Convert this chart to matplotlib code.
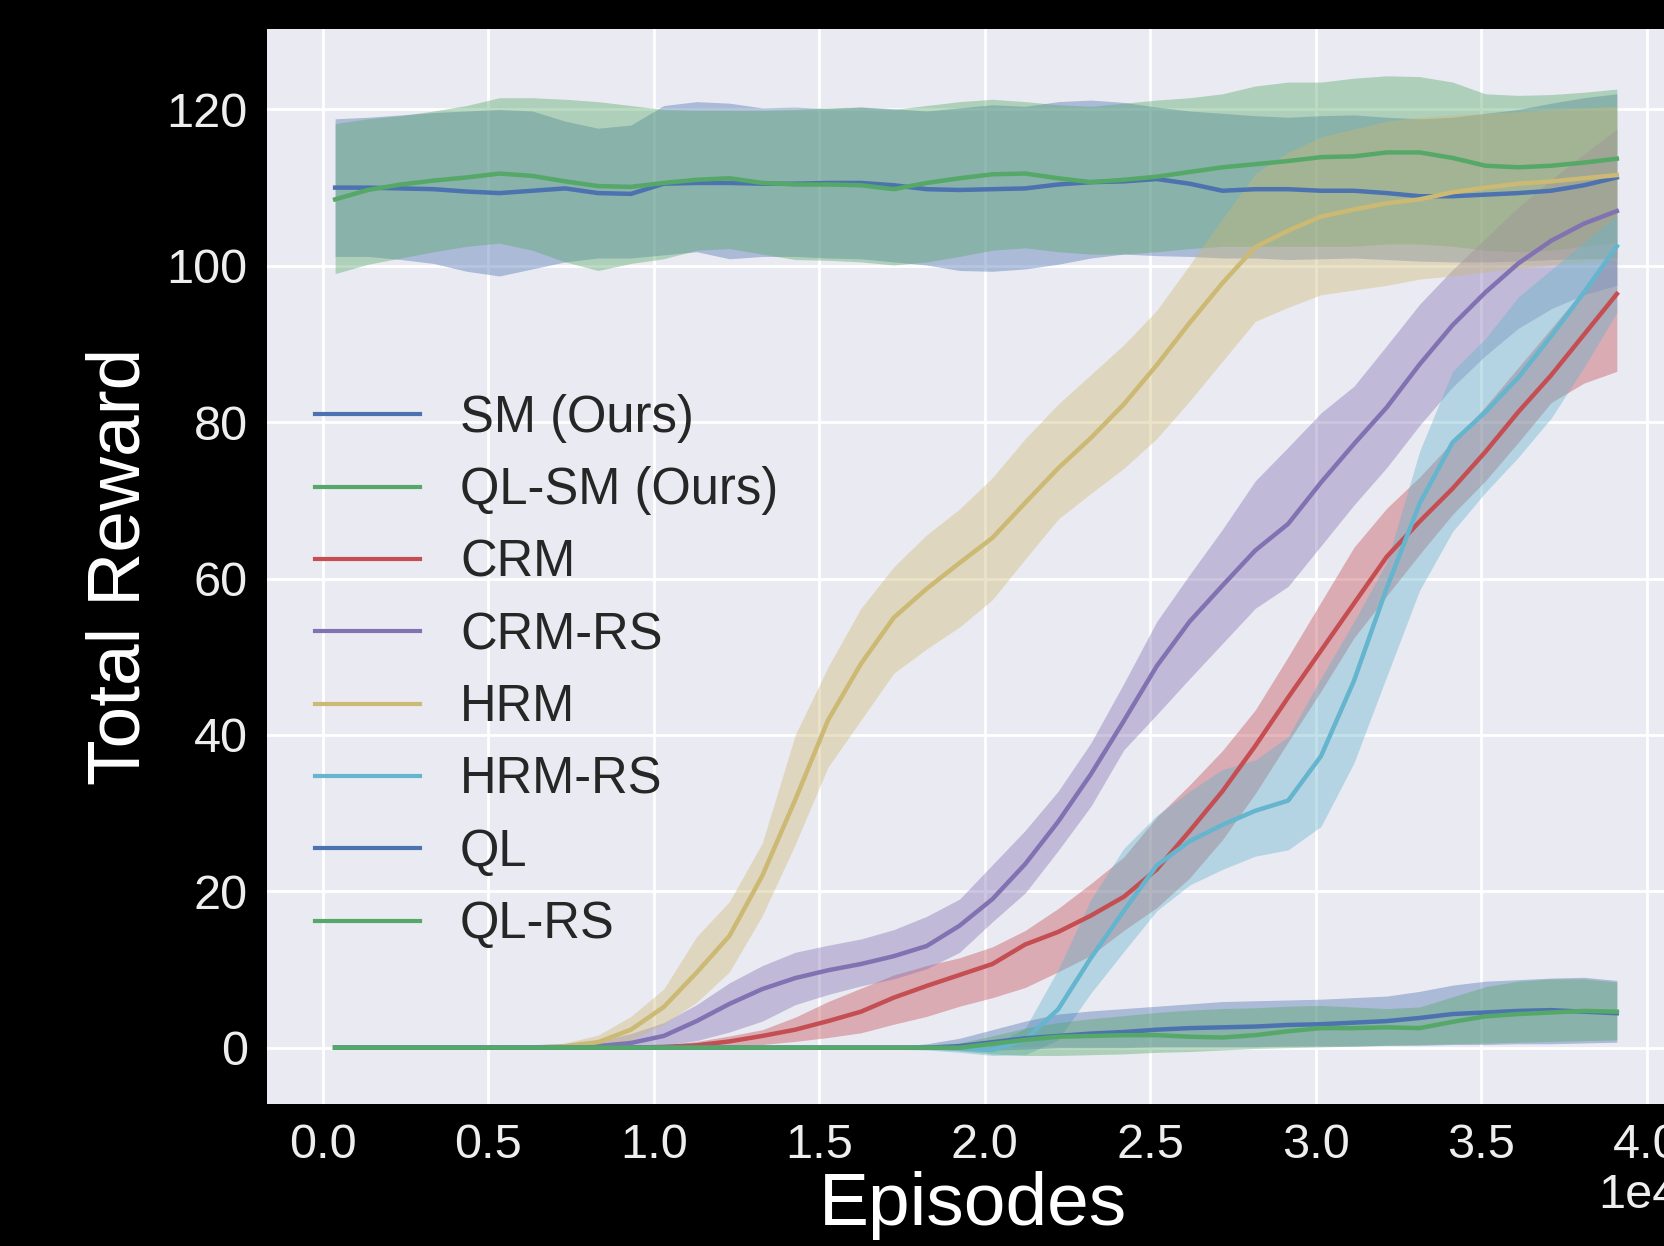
import matplotlib
matplotlib.use("Agg")
import matplotlib.pyplot as plt
import matplotlib.ticker as mticker
import numpy as np

# ---------------- data (episodes, mean / lower / upper) ----------------
episodes = [370, 1363, 2356, 3349, 4342, 5335, 6328, 7321, 8314, 9307,
            10300, 11293, 12286, 13279, 14272, 15265, 16258, 17251, 18244, 19237,
            20230, 21223, 22216, 23209, 24202, 25195, 26188, 27181, 28174, 29167,
            30160, 31153, 32146, 33139, 34132, 35125, 36118, 37111, 38104, 39097]

labels = ["SM (Ours)", "QL-SM (Ours)", "CRM", "CRM-RS", "HRM", "HRM-RS", "QL", "QL-RS"]

sm_mean = [110.0, 110.0, 109.9, 109.8, 109.5, 109.3, 109.6, 109.9, 109.3, 109.2,
           110.5, 110.6, 110.6, 110.5, 110.5, 110.6, 110.6, 110.3, 109.8, 109.7,
           109.8, 109.9, 110.4, 110.7, 110.8, 111.1, 110.5, 109.6, 109.8, 109.8,
           109.6, 109.6, 109.3, 108.9, 108.9, 109.1, 109.3, 109.6, 110.3, 111.3]
sm_upper = [118.8, 119.0, 119.3, 119.6, 119.8, 120.0, 119.8, 118.5, 117.6, 118.0,
            120.5, 121.0, 120.8, 120.2, 120.3, 120.1, 120.3, 120.1, 119.8, 120.2,
            120.6, 120.4, 121.0, 121.2, 120.9, 120.3, 119.8, 119.5, 119.2, 119.0,
            119.2, 119.3, 119.0, 118.8, 119.0, 119.5, 120.0, 120.8, 121.5, 122.0]
sm_lower = [101.2, 101.2, 100.8, 100.3, 99.3, 98.7, 99.6, 100.5, 101.0, 101.0,
            101.4, 101.8, 100.9, 101.2, 101.2, 101.0, 100.9, 100.5, 100.1, 99.4,
            99.3, 99.6, 100.2, 101.0, 101.5, 101.3, 101.2, 101.0, 101.0, 100.8,
            100.9, 101.0, 100.8, 100.6, 100.5, 100.5, 100.6, 100.8, 100.9, 101.0]

qlsm_mean = [108.5, 109.7, 110.4, 110.9, 111.3, 111.8, 111.5, 110.8, 110.2, 110.1,
             110.6, 111.0, 111.2, 110.6, 110.4, 110.4, 110.3, 109.8, 110.6, 111.2,
             111.7, 111.8, 111.2, 110.7, 111.0, 111.4, 112.0, 112.6, 113.0, 113.4,
             113.9, 114.0, 114.5, 114.5, 113.8, 112.8, 112.6, 112.8, 113.2, 113.7]
qlsm_upper = [118.2, 118.8, 119.2, 119.8, 120.5, 121.5, 121.5, 121.3, 121.0, 120.5,
              120.0, 119.9, 119.9, 119.9, 120.0, 120.2, 120.3, 120.0, 120.5, 121.0,
              121.3, 121.0, 120.6, 120.4, 120.8, 121.2, 121.5, 122.0, 123.0, 123.5,
              123.5, 124.0, 124.3, 124.2, 123.5, 122.0, 121.8, 121.9, 122.2, 122.6]
qlsm_lower = [99.0, 100.2, 101.0, 101.8, 102.5, 102.9, 102.0, 100.5, 99.4, 100.3,
              100.9, 102.0, 102.2, 101.5, 100.8, 100.7, 100.5, 100.1, 100.5, 101.2,
              102.0, 102.3, 101.8, 101.5, 101.5, 101.8, 102.2, 102.5, 102.5, 102.5,
              102.5, 102.5, 102.8, 102.8, 102.5, 102.0, 101.8, 102.0, 102.5, 103.0]

crm_mean = [0.0, 0.0, 0.0, 0.0, 0.0, 0.0, 0.0, 0.0, 0.0, 0.0,
            0.1, 0.3, 0.8, 1.5, 2.3, 3.4, 4.6, 6.4, 7.9, 9.3,
            10.7, 13.2, 14.8, 16.9, 19.3, 22.8, 27.7, 32.8, 38.6, 44.8,
            50.8, 56.8, 62.8, 67.3, 71.5, 76.2, 81.3, 86.0, 91.2, 96.4]
crm_upper = [0.0, 0.0, 0.0, 0.0, 0.0, 0.0, 0.0, 0.0, 0.0, 0.0,
             0.3, 0.8, 1.5, 2.3, 3.9, 5.9, 7.6, 9.3, 10.5, 11.5,
             12.9, 15.0, 17.8, 21.0, 24.4, 29.5, 33.6, 38.0, 43.2, 50.0,
             57.0, 64.0, 69.0, 73.0, 77.5, 82.0, 87.0, 92.0, 97.0, 102.5]
crm_lower = [0.0, 0.0, 0.0, 0.0, 0.0, 0.0, 0.0, 0.0, 0.0, 0.0,
             0.0, 0.0, 0.1, 0.4, 0.8, 1.3, 1.9, 3.0, 4.0, 5.3,
             6.4, 7.7, 9.7, 11.8, 15.0, 17.9, 21.7, 26.6, 32.5, 39.1,
             45.6, 52.4, 57.8, 63.1, 68.2, 72.5, 77.4, 82.5, 85.0, 86.5]

crmrs_mean = [0.0, 0.0, 0.0, 0.0, 0.0, 0.0, 0.05, 0.1, 0.2, 0.6,
              1.5, 3.4, 5.6, 7.5, 8.9, 9.9, 10.7, 11.7, 13.0, 15.6,
              19.0, 23.5, 28.9, 35.0, 41.8, 48.8, 54.5, 59.1, 63.6, 67.0,
              72.3, 77.2, 81.9, 87.4, 92.4, 96.6, 100.3, 103.2, 105.4, 107.0]
crmrs_upper = [0.0, 0.0, 0.0, 0.0, 0.0, 0.0, 0.1, 0.3, 0.8, 1.8,
               3.2, 5.5, 8.3, 10.5, 12.2, 13.1, 13.9, 15.1, 16.8, 19.0,
               23.4, 27.8, 32.8, 39.0, 46.6, 54.5, 60.5, 66.3, 72.5, 76.8,
               81.2, 84.6, 89.8, 95.1, 99.5, 103.5, 107.5, 111.0, 114.3, 117.5]
crmrs_lower = [0.0, 0.0, 0.0, 0.0, 0.0, 0.0, 0.0, 0.0, 0.0, 0.1,
               0.3, 0.9, 2.0, 3.4, 5.5, 6.8, 7.9, 8.8, 10.1, 12.2,
               16.1, 19.8, 25.2, 30.9, 38.1, 42.6, 47.2, 51.7, 56.2, 59.0,
               64.2, 69.4, 74.2, 79.6, 84.5, 88.5, 92.0, 94.5, 96.3, 97.5]

hrm_mean = [0.0, 0.0, 0.0, 0.0, 0.0, 0.0, 0.0, 0.2, 0.7, 2.3,
            5.2, 9.6, 14.3, 22.0, 31.7, 41.9, 49.1, 55.0, 58.7, 62.0,
            65.2, 69.7, 74.1, 78.0, 82.3, 87.3, 92.7, 97.8, 102.4, 104.5,
            106.3, 107.2, 108.0, 108.5, 109.4, 110.0, 110.5, 110.8, 111.2, 111.6]
hrm_upper = [0.0, 0.0, 0.0, 0.0, 0.0, 0.0, 0.0, 0.6, 1.6, 4.0,
             7.5, 14.2, 18.7, 26.2, 40.0, 48.7, 56.2, 61.5, 65.6, 68.9,
             72.9, 77.9, 82.3, 86.1, 89.9, 94.3, 100.1, 106.0, 111.8, 114.5,
             116.5, 117.5, 118.5, 119.0, 119.3, 119.5, 119.7, 120.0, 120.2, 120.4]
hrm_lower = [0.0, 0.0, 0.0, 0.0, 0.0, 0.0, 0.0, 0.0, 0.2, 1.0,
             3.0, 5.8, 9.7, 16.9, 26.0, 35.9, 41.9, 47.9, 51.0, 53.8,
             57.3, 62.5, 67.6, 70.9, 74.1, 77.9, 82.7, 87.8, 92.9, 94.7,
             96.3, 96.9, 97.5, 98.3, 98.7, 99.2, 99.7, 100.1, 100.5, 100.8]

hrmrs_mean = [0.0, 0.0, 0.0, 0.0, 0.0, 0.0, 0.0, 0.0, 0.0, 0.0,
              0.0, 0.0, 0.0, 0.0, 0.0, 0.0, 0.0, 0.0, 0.0, -0.1,
              -0.3, 1.0, 4.9, 11.5, 17.5, 23.3, 26.4, 28.5, 30.3, 31.6,
              37.3, 46.9, 58.8, 69.6, 77.4, 81.3, 85.7, 91.0, 96.6, 102.5]
hrmrs_upper = [0.1, 0.1, 0.1, 0.1, 0.1, 0.1, 0.1, 0.1, 0.1, 0.1,
               0.1, 0.1, 0.1, 0.1, 0.1, 0.1, 0.1, 0.1, 0.1, 0.1,
               0.3, 2.5, 10.0, 19.0, 25.5, 29.7, 32.8, 35.6, 36.8, 39.8,
               47.3, 54.5, 62.1, 76.3, 86.5, 90.7, 96.0, 99.5, 103.0, 106.5]
hrmrs_lower = [-0.2, -0.2, -0.2, -0.2, -0.2, -0.2, -0.2, -0.2, -0.2, -0.2,
               -0.2, -0.2, -0.2, -0.2, -0.2, -0.2, -0.2, -0.2, -0.3, -0.6,
               -1.0, -0.9, 1.0, 7.0, 12.3, 17.5, 20.8, 22.8, 24.5, 25.3,
               28.3, 36.4, 47.5, 58.5, 66.0, 71.0, 75.5, 80.5, 87.0, 94.0]

ql_mean = [0.0, 0.0, 0.0, 0.0, 0.0, 0.0, 0.0, 0.0, 0.0, 0.0,
           0.0, 0.0, 0.0, 0.0, 0.0, 0.0, 0.0, 0.0, 0.0, 0.2,
           0.7, 1.2, 1.5, 1.8, 2.0, 2.3, 2.5, 2.6, 2.7, 2.9,
           3.0, 3.2, 3.4, 3.8, 4.3, 4.5, 4.7, 4.8, 4.6, 4.4]
ql_upper = [0.1, 0.1, 0.1, 0.1, 0.1, 0.1, 0.1, 0.1, 0.1, 0.1,
            0.1, 0.1, 0.1, 0.1, 0.1, 0.1, 0.1, 0.1, 0.5, 1.2,
            2.3, 3.4, 4.3, 4.7, 5.0, 5.3, 5.6, 5.9, 6.0, 6.1,
            6.2, 6.4, 6.6, 7.2, 8.0, 8.5, 8.7, 8.9, 9.0, 8.6]
ql_lower = [-0.1, -0.1, -0.1, -0.1, -0.1, -0.1, -0.1, -0.1, -0.1, -0.1,
            -0.1, -0.1, -0.1, -0.1, -0.1, -0.1, -0.1, -0.1, -0.1, -0.2,
            -0.3, -0.2, 0.0, 0.0, 0.0, 0.1, 0.1, 0.1, 0.1, 0.2,
            0.2, 0.2, 0.3, 0.3, 0.4, 0.4, 0.5, 0.5, 0.6, 0.7]

qlrs_mean = [0.0, 0.0, 0.0, 0.0, 0.0, 0.0, 0.0, 0.0, 0.0, 0.0,
             0.0, 0.0, 0.0, 0.0, 0.0, 0.0, 0.0, 0.0, 0.0, 0.0,
             0.5, 1.0, 1.4, 1.5, 1.6, 1.6, 1.4, 1.3, 1.6, 2.1,
             2.5, 2.5, 2.6, 2.5, 3.3, 4.0, 4.3, 4.5, 4.7, 4.6]
qlrs_upper = [0.1, 0.1, 0.1, 0.1, 0.1, 0.1, 0.1, 0.1, 0.1, 0.1,
              0.1, 0.1, 0.1, 0.1, 0.1, 0.1, 0.1, 0.1, 0.1, 0.6,
              1.5, 2.5, 3.2, 3.7, 4.1, 4.5, 4.8, 5.0, 5.1, 5.3,
              5.4, 5.2, 5.0, 5.2, 6.5, 7.8, 8.5, 8.8, 8.8, 8.4]
qlrs_lower = [-0.1, -0.1, -0.1, -0.1, -0.1, -0.1, -0.1, -0.1, -0.1, -0.1,
              -0.1, -0.1, -0.1, -0.1, -0.1, -0.1, -0.1, -0.1, -0.1, -0.4,
              -0.8, -1.0, -1.0, -0.9, -0.8, -0.6, -0.5, -0.3, -0.1, 0.0,
              0.1, 0.2, 0.3, 0.4, 0.5, 0.6, 0.7, 0.8, 0.9, 1.0]

series = [
    (sm_mean, sm_lower, sm_upper),
    (qlsm_mean, qlsm_lower, qlsm_upper),
    (crm_mean, crm_lower, crm_upper),
    (crmrs_mean, crmrs_lower, crmrs_upper),
    (hrm_mean, hrm_lower, hrm_upper),
    (hrmrs_mean, hrmrs_lower, hrmrs_upper),
    (ql_mean, ql_lower, ql_upper),
    (qlrs_mean, qlrs_lower, qlrs_upper),
]
colors = ["#4C72B0", "#55A868", "#C44E52", "#8172B2", "#CCB974", "#64B5CD", "#4C72B0", "#55A868"]

# ---------------- figure ----------------
plt.rcParams['font.family'] = ['Liberation Sans', 'DejaVu Sans']
fig = plt.figure(figsize=(16.64, 12.46), dpi=100, facecolor="black")
ax = fig.add_axes([0.1605, 0.114, 0.849, 0.8628])
ax.set_facecolor("#EAEAF2")
for s in ax.spines.values():
    s.set_visible(False)
ax.grid(True, color="white", linewidth=2.0)
ax.set_axisbelow(True)

x = np.array(episodes)
for (m, lo, hi), c, lab in zip(series, colors, labels):
    ax.fill_between(x, lo, hi, color=c, alpha=0.4, linewidth=0)
    ax.plot(x, m, color=c, lw=3.2, label=lab)

ax.set_xlim(-1686, 41000)
ax.set_ylim(-7.2, 130.3)
ax.xaxis.set_major_locator(mticker.MultipleLocator(5000))
ax.yaxis.set_major_locator(mticker.MultipleLocator(20))
ax.ticklabel_format(axis="x", style="sci", scilimits=(0, 0))
ax.tick_params(axis="both", length=0, labelsize=35, labelcolor="#eeeeee", pad=14)
ax.xaxis.get_offset_text().set_fontsize(35)
ax.xaxis.get_offset_text().set_color("#eeeeee")

ax.set_xlabel("Episodes", fontsize=54, color="white", labelpad=2)
ax.set_ylabel("Total Reward", fontsize=54, color="white", labelpad=8.5)

leg = ax.legend(loc="center left", bbox_to_anchor=(0.034, 0.402), frameon=False,
                fontsize=36.5, handlelength=2.07, handletextpad=0.79,
                labelspacing=0.46, borderpad=0, borderaxespad=0)
for line in leg.get_lines():
    line.set_linewidth(3.0)
for t in leg.get_texts():
    t.set_color("#262626")

fig.savefig("out.png", dpi=100, facecolor="black")
